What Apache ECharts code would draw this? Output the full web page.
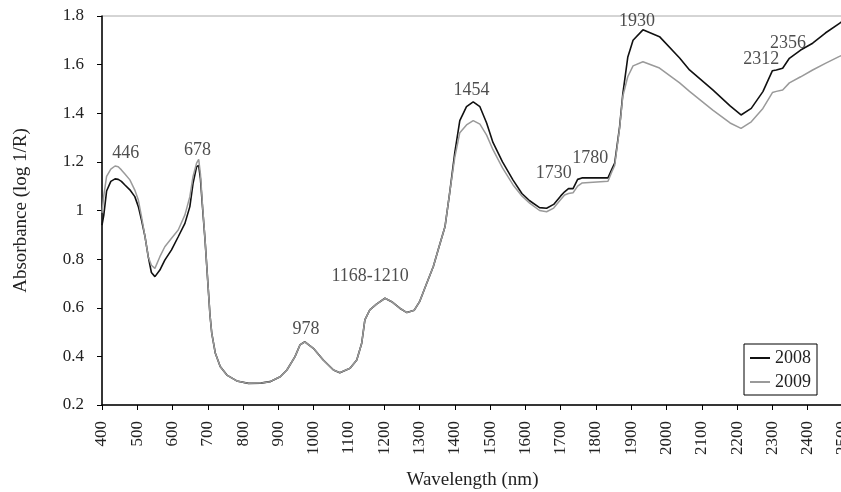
<!DOCTYPE html>
<html>
<head>
<meta charset="utf-8">
<script src="https://cdn.jsdelivr.net/npm/echarts@6/dist/echarts.min.js"></script>
<style>html,body{margin:0;padding:0;background:#fff}#c{width:841px;height:492px}</style>
</head>
<body>
<div id="c"></div>
<script>
// Wavelength (nm) sample points
var wavelengths = [400,405,413,425,437,446,455,465,479,493,503,512,522,531,540,550,564,578,597,616,635,649,658,668,674,679,684,692,701,706,711,721,735,754,782,815,850,876,905,924,947,961,975,999,1027,1056,1074,1103,1122,1136,1145,1159,1178,1202,1221,1244,1264,1285,1300,1320,1339,1355,1372,1386,1400,1414,1433,1452,1471,1490,1508,1535,1565,1590,1612,1640,1660,1680,1700,1711,1722,1735,1748,1760,1834,1845,1853,1867,1876,1890,1905,1933,1980,2037,2065,2131,2180,2211,2240,2273,2300,2311,2329,2348,2380,2414,2450,2490,2500];
// Absorbance 2008
var abs2008 = [0.94,0.98,1.08,1.12,1.13,1.128,1.12,1.105,1.085,1.057,1.016,0.961,0.892,0.81,0.745,0.728,0.755,0.796,0.838,0.892,0.947,1.016,1.112,1.18,1.185,1.13,1.03,0.879,0.68,0.57,0.496,0.414,0.358,0.323,0.299,0.289,0.29,0.296,0.316,0.344,0.399,0.447,0.46,0.433,0.385,0.344,0.333,0.351,0.385,0.454,0.55,0.591,0.615,0.639,0.625,0.598,0.58,0.59,0.625,0.70,0.77,0.85,0.933,1.08,1.24,1.37,1.427,1.447,1.427,1.36,1.28,1.20,1.125,1.07,1.04,1.012,1.009,1.025,1.06,1.077,1.09,1.09,1.128,1.134,1.134,1.17,1.195,1.345,1.48,1.63,1.70,1.743,1.715,1.627,1.578,1.496,1.43,1.393,1.42,1.489,1.575,1.578,1.585,1.626,1.66,1.688,1.73,1.77,1.78];
// Absorbance 2009
var abs2009 = [0.99,1.06,1.14,1.17,1.183,1.18,1.167,1.15,1.126,1.084,1.043,0.975,0.892,0.81,0.775,0.762,0.81,0.851,0.886,0.92,0.982,1.057,1.14,1.195,1.21,1.15,1.04,0.88,0.68,0.57,0.496,0.414,0.358,0.323,0.299,0.289,0.29,0.296,0.316,0.344,0.399,0.447,0.46,0.433,0.385,0.344,0.333,0.351,0.385,0.454,0.55,0.591,0.615,0.639,0.625,0.598,0.58,0.59,0.625,0.70,0.77,0.85,0.933,1.08,1.22,1.32,1.352,1.37,1.355,1.31,1.25,1.175,1.105,1.06,1.03,1.0,0.995,1.01,1.045,1.064,1.07,1.073,1.10,1.113,1.12,1.16,1.185,1.34,1.47,1.55,1.595,1.612,1.586,1.525,1.49,1.413,1.36,1.338,1.365,1.42,1.485,1.49,1.496,1.525,1.55,1.578,1.605,1.634,1.64];
// Peak annotations
var annotLabels = ['446','678','978','1168-1210','1454','1730','1780','1930','2312','2356'];
var annotX = [467,671,978,1160,1447,1680,1784,1916,2268,2344];
var annotY = [1.236,1.249,0.513,0.73,1.496,1.154,1.215,1.777,1.622,1.688];
var seriesNames = ['2008','2009'];

var FONT = 'Liberation Serif';
var d2008 = wavelengths.map(function(w,i){return [w,abs2008[i]];});
var d2009 = wavelengths.map(function(w,i){return [w,abs2009[i]];});
var dAnn = annotX.map(function(x,i){return [x,annotY[i],annotLabels[i]];});

var chart = echarts.init(document.getElementById('c'));
chart.setOption({
  animation:false,
  backgroundColor:'#fff',
  grid:{left:102,top:16,width:741,height:389,containLabel:false,outerBoundsMode:'none',
    show:true,borderColor:'#aaa',borderWidth:1,backgroundColor:'transparent'},
  legend:{
    data:seriesNames,orient:'vertical',left:744,top:344,
    backgroundColor:'#fff',borderColor:'#000',borderWidth:1,padding:[5,6,4,6],
    itemWidth:20,itemHeight:2,itemGap:6,icon:'rect',
    textStyle:{fontFamily:FONT,fontSize:18,color:'#222',lineHeight:18}
  },
  xAxis:{
    type:'value',min:400,max:2500,interval:100,
    name:'Wavelength (nm)',nameLocation:'middle',nameGap:66,
    nameTextStyle:{fontFamily:FONT,fontSize:19,color:'#222'},
    axisLine:{lineStyle:{color:'#000',width:1.5}},
    axisTick:{show:true,length:5,lineStyle:{color:'#000'}},
    axisLabel:{rotate:90,fontFamily:FONT,fontSize:17,color:'#222',margin:16,showMaxLabel:true,
      formatter:function(v){return String(v);}},
    splitLine:{show:false}
  },
  yAxis:{
    type:'value',min:0.2,max:1.8,interval:0.2,
    name:'Absorbance (log 1/R)',nameLocation:'middle',nameGap:71,
    nameTextStyle:{fontFamily:FONT,fontSize:19,color:'#222'},
    axisLine:{show:true,lineStyle:{color:'#000',width:1.5}},
    axisTick:{show:true,length:5,lineStyle:{color:'#000'}},
    axisLabel:{fontFamily:FONT,fontSize:17,color:'#222',margin:18,
      formatter:function(v){return String(Math.round(v*10)/10);}},
    splitLine:{show:false}
  },
  series:[
    {name:'2008',type:'line',data:d2008,showSymbol:false,smooth:false,
      lineStyle:{color:'#111',width:1.6},itemStyle:{color:'#111'},z:2},
    {name:'2009',type:'line',data:d2009,showSymbol:false,smooth:false,
      lineStyle:{color:'#9a9a9a',width:1.5},itemStyle:{color:'#9a9a9a'},z:3},
    {name:'labels',type:'scatter',data:dAnn,symbolSize:1,itemStyle:{color:'rgba(0,0,0,0)'},z:5,
      label:{show:true,position:'inside',formatter:function(p){return p.data[2];},
        fontFamily:FONT,fontSize:18,color:'#222'}}
  ]
});
</script>
</body>
</html>
